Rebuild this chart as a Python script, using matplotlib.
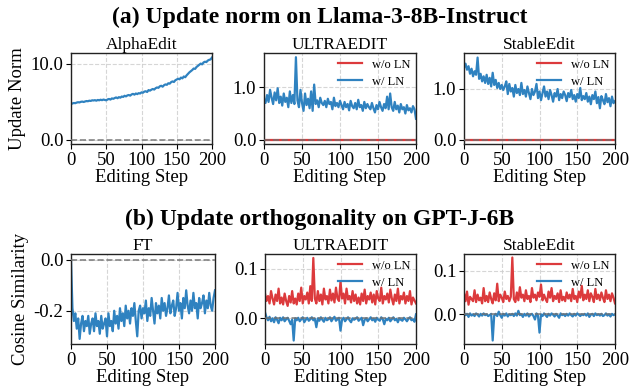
import numpy as np
import matplotlib
matplotlib.use("Agg")
import matplotlib.pyplot as plt
from matplotlib.ticker import FormatStrFormatter

plt.rcParams["font.family"] = ["Liberation Serif", "DejaVu Serif"]
plt.rcParams["axes.unicode_minus"] = False

RED = "#dc3a3c"
BLUE = "#2f82c0"

# editing steps, sampled every 2 steps
steps = np.arange(0, 201, 2)
flat_steps = [0, 200]

# ---- (a) update norm, Llama-3-8B-Instruct ----
alpha_norm = [
    4.70, 4.78, 4.85, 4.82, 4.90, 4.95, 4.92, 5.00, 5.03, 4.98, 5.05,
    5.10, 5.08, 5.15, 5.12, 5.20, 5.18, 5.22, 5.15, 5.25, 5.20,
    5.28, 5.22, 5.30, 5.25, 5.20, 5.32, 5.38, 5.30, 5.45, 5.40,
    5.50, 5.58, 5.48, 5.62, 5.55, 5.70, 5.65, 5.80, 5.72, 5.85,
    5.90, 5.82, 5.98, 6.05, 5.95, 6.10, 6.02, 6.15, 6.10, 6.25,
    6.20, 6.35, 6.40, 6.30, 6.55, 6.48, 6.60, 6.70, 6.62, 6.80,
    6.90, 6.85, 7.05, 7.12, 7.00, 7.20, 7.30, 7.25, 7.45, 7.40,
    7.60, 7.70, 7.62, 7.85, 7.95, 8.05, 7.98, 8.20, 8.10, 8.35,
    8.25, 8.50, 8.70, 8.90, 9.05, 9.20, 9.40, 9.35, 9.60, 9.75,
    9.90, 10.05, 9.95, 10.20, 10.30, 10.25, 10.45, 10.55, 10.60, 10.85,
]

ultra_norm_ln = [
    0.78, 0.70, 0.85, 0.72, 0.95, 0.80, 0.68, 0.90, 0.75, 0.98, 0.70,
    0.82, 0.65, 0.88, 0.72, 0.80, 0.62, 0.92, 0.70, 0.85, 0.68,
    1.57, 0.75, 0.62, 0.95, 0.70, 0.55, 0.88, 0.66, 0.78, 0.60,
    0.92, 0.55, 1.05, 0.68, 0.75, 0.62, 0.80, 0.70, 0.66, 0.74,
    0.62, 0.78, 0.68, 0.72, 0.58, 0.80, 0.64, 0.70, 0.62, 0.74,
    0.66, 0.58, 0.72, 0.62, 0.68, 0.56, 0.74, 0.64, 0.60, 0.70,
    0.58, 0.76, 0.62, 0.66, 0.55, 0.72, 0.60, 0.68, 0.62, 0.58,
    0.70, 0.60, 0.52, 0.66, 0.58, 0.72, 0.62, 0.55, 0.68, 0.60,
    0.82, 0.58, 0.88, 0.62, 0.55, 0.72, 0.58, 0.65, 0.52, 0.68,
    0.58, 0.62, 0.50, 0.66, 0.56, 0.60, 0.52, 0.64, 0.58, 0.40,
]
ultra_norm_noln = [0.0, 0.0]

stable_norm_ln = [
    1.42, 1.50, 1.38, 1.45, 1.30, 1.40, 1.25, 1.35, 1.28, 1.62, 1.20,
    1.30, 1.15, 1.25, 1.12, 1.28, 1.10, 1.22, 1.05, 1.32, 1.08,
    1.18, 1.02, 1.12, 1.00, 1.08, 0.98, 1.05, 1.15, 0.90, 1.10,
    0.95, 1.02, 0.85, 1.08, 0.92, 1.00, 0.88, 1.12, 0.90, 0.98,
    0.85, 1.05, 0.92, 0.80, 1.00, 0.88, 0.95, 1.10, 0.82, 0.95,
    0.78, 0.92, 1.05, 0.85, 0.95, 0.80, 0.98, 0.88, 0.75, 0.92,
    0.85, 1.00, 0.78, 0.90, 0.82, 0.95, 0.88, 0.76, 0.92, 0.84,
    0.98, 0.80, 0.88, 0.75, 0.90, 0.82, 1.02, 0.78, 0.86, 0.80,
    0.92, 0.75, 0.85, 0.70, 0.88, 0.80, 0.95, 0.72, 0.84, 0.62,
    0.86, 0.78, 0.70, 0.90, 0.74, 0.82, 0.66, 0.85, 0.72, 0.76,
]
stable_norm_noln = [0.0, 0.0]

# ---- (b) update orthogonality, GPT-J-6B ----
ft_cos = [
    0.00, -0.19, -0.24, -0.21, -0.27, -0.23, -0.31, -0.25, -0.22, -0.28, -0.24,
    -0.26, -0.22, -0.29, -0.25, -0.23, -0.28, -0.21, -0.26, -0.24, -0.29,
    -0.22, -0.27, -0.25, -0.23, -0.30, -0.21, -0.26, -0.24, -0.28, -0.20,
    -0.25, -0.22, -0.27, -0.19, -0.24, -0.21, -0.26, -0.18, -0.23, -0.20,
    -0.25, -0.19, -0.22, -0.17, -0.24, -0.30, -0.20, -0.18, -0.23, -0.19,
    -0.21, -0.16, -0.24, -0.19, -0.22, -0.15, -0.20, -0.25, -0.17, -0.21,
    -0.18, -0.23, -0.15, -0.20, -0.17, -0.22, -0.19, -0.14, -0.21, -0.18,
    -0.16, -0.22, -0.19, -0.13, -0.20, -0.17, -0.23, -0.15, -0.19, -0.12,
    -0.18, -0.21, -0.16, -0.20, -0.13, -0.19, -0.17, -0.23, -0.15, -0.19,
    -0.17, -0.14, -0.21, -0.16, -0.19, -0.13, -0.18, -0.20, -0.15, -0.12,
]

ultra_cos_noln = [
    0.050, 0.035, 0.045, 0.030, 0.055, 0.040, 0.028, 0.048, 0.035, 0.060, 0.030,
    0.042, 0.028, 0.050, 0.035, 0.025, 0.045, 0.032, 0.055, 0.030, 0.040,
    0.028, 0.050, 0.035, 0.062, 0.030, 0.045, 0.038, 0.052, 0.030, 0.065,
    0.035, 0.122, 0.040, 0.030, 0.055, 0.035, 0.048, 0.028, 0.060, 0.038,
    0.045, 0.030, 0.058, 0.036, 0.050, 0.032, 0.062, 0.040, 0.035, 0.075,
    0.040, 0.050, 0.030, 0.060, 0.038, 0.045, 0.032, 0.055, 0.035, 0.048,
    0.030, 0.042, 0.028, 0.050, 0.035, 0.058, 0.030, 0.045, 0.038, 0.052,
    0.032, 0.048, 0.028, 0.055, 0.040, 0.035, 0.062, 0.030, 0.045, 0.038,
    0.050, 0.032, 0.058, 0.040, 0.028, 0.048, 0.035, 0.060, 0.030, 0.045,
    0.038, 0.052, 0.030, 0.045, 0.035, 0.055, 0.028, 0.042, 0.036, 0.030,
]
ultra_cos_ln = [
    0.012, 0.002, -0.004, 0.003, -0.006, 0.000, -0.008, 0.002, -0.003, -0.010, 0.001,
    -0.004, 0.002, -0.006, -0.002, 0.001, -0.005, -0.012, -0.003, -0.045, 0.000,
    -0.004, 0.001, -0.006, -0.002, 0.002, -0.008, -0.003, 0.001, -0.005, -0.002,
    0.002, -0.004, -0.001, -0.018, 0.000, -0.005, 0.002, -0.003, -0.007, 0.001,
    -0.004, -0.002, 0.002, -0.006, -0.001, 0.003, -0.005, -0.002, 0.001, -0.025,
    -0.003, 0.001, -0.006, -0.002, 0.002, -0.004, -0.008, 0.000, -0.003, -0.001,
    0.002, -0.005, -0.002, 0.001, -0.014, -0.003, 0.000, -0.006, -0.002, 0.002,
    -0.004, -0.001, -0.007, 0.001, -0.003, -0.005, 0.002, -0.002, -0.012, -0.001,
    -0.004, 0.001, -0.006, -0.002, 0.002, -0.004, -0.001, -0.008, 0.000, -0.003,
    -0.005, 0.001, -0.002, -0.006, -0.001, 0.002, -0.004, -0.002, -0.007, 0.008,
]

stable_cos_noln = [
    0.048, 0.030, 0.052, 0.022, 0.040, 0.035, 0.030, 0.055, 0.028, 0.045, 0.032,
    0.038, 0.025, 0.060, 0.030, 0.042, 0.028, 0.050, 0.035, 0.025, 0.048,
    0.032, 0.070, 0.030, 0.045, 0.038, 0.028, 0.052, 0.035, 0.042, 0.030,
    0.040, 0.130, 0.035, 0.028, 0.050, 0.032, 0.062, 0.038, 0.045, 0.030,
    0.055, 0.035, 0.042, 0.028, 0.060, 0.038, 0.045, 0.032, 0.050, 0.040,
    0.068, 0.032, 0.045, 0.035, 0.028, 0.052, 0.038, 0.060, 0.030, 0.042,
    0.035, 0.048, 0.028, 0.055, 0.032, 0.040, 0.030, 0.050, 0.036, 0.045,
    0.030, 0.058, 0.035, 0.042, 0.028, 0.052, 0.038, 0.065, 0.032, 0.045,
    0.035, 0.055, 0.030, 0.048, 0.040, 0.028, 0.058, 0.035, 0.045, 0.032,
    0.050, 0.038, 0.028, 0.055, 0.035, 0.045, 0.030, 0.048, 0.038, 0.025,
]
stable_cos_ln = [
    0.003, -0.002, 0.001, -0.006, 0.002, -0.003, 0.000, -0.004, 0.002, -0.001, -0.005,
    0.001, -0.003, 0.002, -0.002, 0.000, -0.004, -0.002, 0.001, -0.060, -0.003,
    0.001, -0.004, 0.006, -0.002, -0.008, 0.001, -0.003, 0.002, -0.005, 0.000,
    -0.002, 0.001, -0.004, 0.002, -0.003, 0.008, -0.002, 0.000, -0.006, 0.001,
    -0.003, 0.002, -0.005, -0.001, 0.001, -0.004, -0.012, 0.002, -0.003, -0.042,
    0.000, -0.004, 0.002, -0.002, -0.006, 0.001, -0.003, 0.002, -0.001, -0.005,
    0.001, -0.003, -0.008, 0.002, -0.002, 0.000, -0.004, 0.001, -0.003, 0.002,
    -0.002, -0.005, 0.001, -0.003, 0.002, -0.001, -0.004, 0.000, -0.002, 0.001,
    -0.003, 0.002, -0.006, -0.001, 0.001, -0.004, 0.002, -0.002, 0.000, -0.003,
    0.001, -0.004, -0.002, 0.002, -0.003, 0.000, -0.005, 0.001, -0.002, 0.000,
]

W, H = 633, 391


def rect(l, t, r, b):
    """pixel box (left, top, right, bottom) -> figure fraction rect"""
    return [l / W, 1 - b / H, (r - l) / W, (b - t) / H]


def style(ax, title, ylim, yticks, ylabel=None):
    ax.set_xlim(0, 200)
    ax.set_ylim(*ylim)
    ax.set_xticks([0, 50, 100, 150, 200])
    ax.set_yticks(yticks)
    ax.yaxis.set_major_formatter(FormatStrFormatter("%.1f"))
    ax.grid(True, color="#cccccc", ls="--", lw=0.8, alpha=0.8)
    ax.set_axisbelow(True)
    ax.axhline(0, color="#707070", ls="--", lw=1.2, alpha=0.85, zorder=4)
    ax.tick_params(labelsize=13.5, length=3.5, width=0.8, pad=2)
    for sp in ax.spines.values():
        sp.set_color("#222222")
        sp.set_linewidth(1.0)
    ax.set_title(title, fontsize=12.5, pad=3)
    ax.set_xlabel("Editing Step", fontsize=13.5, labelpad=0)
    if ylabel:
        ax.set_ylabel(ylabel, fontsize=13.5, labelpad=3)


def add_legend(ax):
    ax.legend(loc="upper right", fontsize=9, frameon=False, handlelength=1.9,
              borderaxespad=0.2, borderpad=0.25, labelspacing=0.4)


fig = plt.figure(figsize=(W / 100, H / 100), dpi=100)

# row (a)
ax = fig.add_axes(rect(71, 53, 212, 144))
ax.plot(steps, alpha_norm, color=BLUE, lw=1.6)
style(ax, "AlphaEdit", (-0.57, 11.45), [0, 10], "Update Norm")

ax = fig.add_axes(rect(264, 53, 416, 144))
ax.plot(flat_steps, ultra_norm_noln, color=RED, lw=1.6, label="w/o LN")
ax.plot(steps, ultra_norm_ln, color=BLUE, lw=1.6, label="w/ LN")
style(ax, "ULTRAEDIT", (-0.08, 1.65), [0, 1])
add_legend(ax)

ax = fig.add_axes(rect(464, 53, 615, 144))
ax.plot(flat_steps, stable_norm_noln, color=RED, lw=1.6, label="w/o LN")
ax.plot(steps, stable_norm_ln, color=BLUE, lw=1.6, label="w/ LN")
style(ax, "StableEdit", (-0.085, 1.71), [0, 1])
add_legend(ax)

# row (b)
ax = fig.add_axes(rect(71, 254, 215, 344))
ax.plot(steps, ft_cos, color=BLUE, lw=1.6)
style(ax, "FT", (-0.33, 0.022), [-0.2, 0.0], "Cosine Similarity")

ax = fig.add_axes(rect(265, 254, 416, 344))
ax.plot(steps, ultra_cos_noln, color=RED, lw=1.6, label="w/o LN")
ax.plot(steps, ultra_cos_ln, color=BLUE, lw=1.6, label="w/ LN")
style(ax, "ULTRAEDIT", (-0.052, 0.13), [0.0, 0.1])
add_legend(ax)

ax = fig.add_axes(rect(464, 254, 615, 344))
ax.plot(steps, stable_cos_noln, color=RED, lw=1.6, label="w/o LN")
ax.plot(steps, stable_cos_ln, color=BLUE, lw=1.6, label="w/ LN")
style(ax, "StableEdit", (-0.068, 0.138), [0.0, 0.1])
add_legend(ax)

fig.text(0.505, 1 - 17 / H, "(a) Update norm on Llama-3-8B-Instruct",
         ha="center", va="center", fontsize=17, fontweight="bold")
fig.text(0.505, 1 - 219 / H, "(b) Update orthogonality on GPT-J-6B",
         ha="center", va="center", fontsize=17, fontweight="bold")

fig.savefig("out.png", dpi=100)
